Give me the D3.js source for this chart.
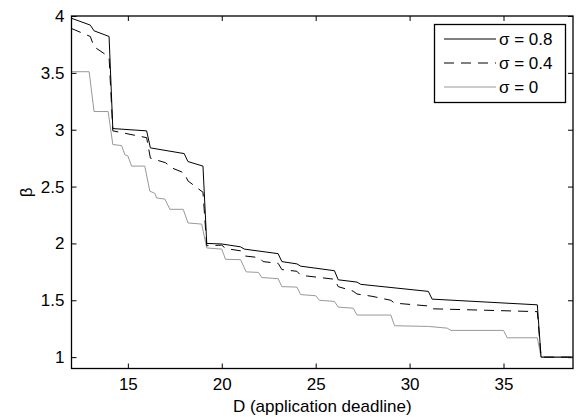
<!DOCTYPE html>
<html lang="en">
<head>
<meta charset="utf-8">
<title>beta vs application deadline</title>
<script src="https://d3js.org/d3.v7.min.js"></script>
<style>
  body { margin: 0; background: #fff; }
  svg text { font-family: "Liberation Sans", Arial, Helvetica, sans-serif; }
</style>
</head>
<body>
<svg width="580" height="417"></svg>
<script>
// sigma = 0.8 (solid black)
var d08 = [12, 13, 13.2, 14, 14.2, 16, 16.2, 18, 18.2, 19, 19.2, 20, 21, 21.2, 23, 23.2, 24, 24.2, 26, 26.2, 27.2, 27.4, 31, 31.2, 36.8, 37, 38.7];
var b08 = [3.98, 3.92, 3.87, 3.82, 3.01, 2.99, 2.84, 2.79, 2.72, 2.68, 2.00, 1.995, 1.97, 1.95, 1.91, 1.84, 1.82, 1.80, 1.76, 1.68, 1.66, 1.64, 1.578, 1.51, 1.46, 1.0, 1.0];

// sigma = 0.4 (dashed black)
var d04 = [12, 13, 13.2, 14, 14.2, 16, 16.2, 17, 17.4, 18, 18.2, 19, 19.2, 20, 20.2, 21, 21.2, 22, 22.2, 23, 23.2, 24, 24.2, 26, 26.2, 27, 27.2, 28, 29, 29.2, 31, 31.2, 36.8, 37, 38.7];
var b04 = [3.89, 3.82, 3.73, 3.64, 2.99, 2.93, 2.75, 2.71, 2.66, 2.62, 2.55, 2.45, 1.98, 1.985, 1.955, 1.935, 1.89, 1.875, 1.84, 1.825, 1.77, 1.755, 1.72, 1.685, 1.62, 1.58, 1.555, 1.535, 1.50, 1.475, 1.45, 1.425, 1.40, 1.0, 1.0];

// sigma = 0 (solid gray)
var d00 = [12, 12.94, 13.2, 13.95, 14.2, 14.67, 14.84, 15, 15.2, 15.9, 16.17, 16.44, 16.53, 16.97, 17.24, 17.95, 18.2, 18.93, 19.2, 20, 20.2, 21, 21.3, 21.95, 22.13, 23, 23.2, 24, 24.2, 25, 25.2, 26, 26.2, 27, 27.2, 29, 29.2, 31, 32, 32.2, 35, 35.2, 36.8, 37, 38.7];
var b00 = [3.51, 3.51, 3.16, 3.16, 2.87, 2.86, 2.78, 2.77, 2.68, 2.68, 2.46, 2.44, 2.40, 2.39, 2.30, 2.30, 2.18, 2.17, 1.96, 1.95, 1.86, 1.857, 1.75, 1.745, 1.70, 1.69, 1.62, 1.616, 1.55, 1.54, 1.50, 1.49, 1.44, 1.43, 1.37, 1.37, 1.276, 1.27, 1.255, 1.235, 1.235, 1.17, 1.17, 1.0, 1.0];

var xTicks = [15, 20, 25, 30, 35];
var yTicks = [1, 1.5, 2, 2.5, 3, 3.5, 4];
var legendLabels = ['\u03c3 = 0.8', '\u03c3 = 0.4', '\u03c3 = 0'];

var pl = 71.5, pr = 573, pt = 16, pb = 368.5;
var fs = 17;

var svg = d3.select('svg');

var x = d3.scaleLinear().domain([12, 38.7]).range([pl, pr]);
var y = d3.scaleLinear().domain([0.9, 4]).range([pb, pt]);

function styleAxis(g) {
  g.select('.domain').remove();
  g.selectAll('line').attr('stroke', '#000');
  g.selectAll('text').attr('font-size', fs).attr('fill', '#000');
}

// bottom / top ticks
svg.append('g')
  .attr('transform', 'translate(0,' + pb + ')')
  .call(d3.axisBottom(x).tickValues(xTicks).tickFormat(d3.format('d')).tickSizeInner(-5).tickSizeOuter(0).tickPadding(9))
  .call(styleAxis);
svg.append('g')
  .attr('transform', 'translate(0,' + pt + ')')
  .call(d3.axisTop(x).tickValues(xTicks).tickFormat('').tickSizeInner(-5).tickSizeOuter(0))
  .call(styleAxis);

// left / right ticks
svg.append('g')
  .attr('transform', 'translate(' + pl + ',0)')
  .call(d3.axisLeft(y).tickValues(yTicks).tickFormat(d3.format('~g')).tickSizeInner(-5).tickSizeOuter(0).tickPadding(7))
  .call(styleAxis);
svg.append('g')
  .attr('transform', 'translate(' + pr + ',0)')
  .call(d3.axisRight(y).tickValues(yTicks).tickFormat('').tickSizeInner(-5).tickSizeOuter(0))
  .call(styleAxis);

// lines
var line = d3.line().x(function(d) { return x(d[0]); }).y(function(d) { return y(d[1]); });
var series = [
  { d: d00, b: b00, color: '#999', dash: null },
  { d: d04, b: b04, color: '#000', dash: '10,7' },
  { d: d08, b: b08, color: '#000', dash: null }
];
series.forEach(function(s) {
  svg.append('path')
    .datum(s.d.map(function(v, i) { return [v, s.b[i]]; }))
    .attr('d', line)
    .attr('fill', 'none')
    .attr('stroke', s.color)
    .attr('stroke-width', 1)
    .attr('stroke-dasharray', s.dash);
});

// box
svg.append('rect')
  .attr('x', pl).attr('y', pt)
  .attr('width', pr - pl).attr('height', pb - pt)
  .attr('fill', 'none').attr('stroke', '#000').attr('stroke-width', 1.3);

// axis labels
svg.append('text')
  .attr('x', (pl + pr) / 2).attr('y', 412)
  .attr('text-anchor', 'middle').attr('font-size', fs)
  .text('D (application deadline)');
svg.append('text')
  .attr('transform', 'translate(32,' + ((pt + pb) / 2) + ') rotate(-90)')
  .attr('text-anchor', 'middle').attr('font-size', fs)
  .text('\u03b2');

// legend
var lg = svg.append('g');
lg.append('rect')
  .attr('x', 434.5).attr('y', 24.5).attr('width', 131).attr('height', 78)
  .attr('fill', '#fff').attr('stroke', '#000').attr('stroke-width', 1.3);
var legColors = ['#000', '#000', '#999'];
var legDash = [null, '10,7', null];
legendLabels.forEach(function(t, i) {
  var yy = 39 + i * 24;
  lg.append('line')
    .attr('x1', 444).attr('x2', 496).attr('y1', yy).attr('y2', yy)
    .attr('stroke', legColors[i]).attr('stroke-width', 1).attr('stroke-dasharray', legDash[i]);
  lg.append('text')
    .attr('x', 499).attr('y', yy).attr('dy', '0.35em')
    .attr('font-size', fs).text(t);
});
</script>
</body>
</html>
